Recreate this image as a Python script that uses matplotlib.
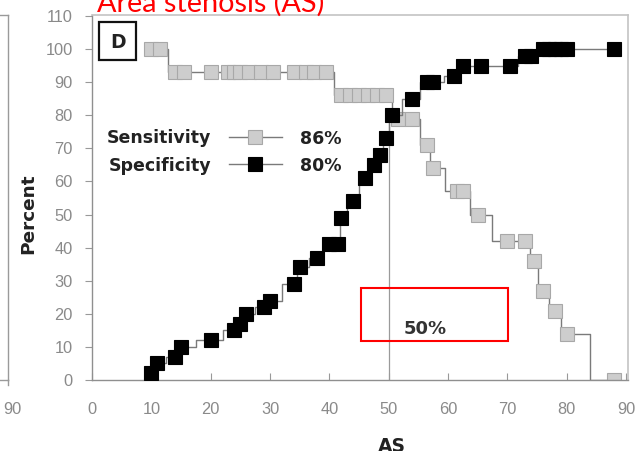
import matplotlib.pyplot as plt
from matplotlib.patches import Rectangle
from matplotlib.lines import Line2D

# ROC-style cut-off curves: sensitivity / specificity against area stenosis
sens_x = [10, 11.5, 14, 15.5, 20, 23, 24, 25, 26.5, 28.5, 30.5, 34, 36, 37.5, 39.5,
          42, 43.5, 45, 46.5, 48, 49.5, 51.5, 54, 56.5, 57.5, 61.5, 62.5, 65,
          70, 73, 74.5, 76, 78, 80, 88]
sens_y = [100, 100, 93, 93, 93, 93, 93, 93, 93, 93, 93, 93, 93, 93, 93,
          86, 86, 86, 86, 86, 86, 79, 79, 71, 64, 57, 57, 50,
          42, 42, 36, 27, 21, 14, 0]

spec_x = [10, 11, 14, 15, 20, 24, 25, 26, 29, 30, 34, 35, 38, 40, 41.5, 42, 44,
          46, 47.5, 48.5, 49.5, 50.5, 54, 56.5, 57.5, 61, 62.5, 65.5, 70.5,
          73, 74, 76, 77, 78, 79, 80, 88]
spec_y = [2, 5, 7, 10, 12, 15, 17, 20, 22, 24, 29, 34, 37, 41, 41, 49, 54,
          61, 65, 68, 73, 80, 85, 90, 90, 92, 95, 95, 95,
          98, 98, 100, 100, 100, 100, 100, 100]

cutoff = 50
cutoff_value = 80
sens_at_cut = "86%"
spec_at_cut = "80%"
cut_label = "50%"

x_ticks = list(range(0, 91, 10))
y_ticks = list(range(0, 111, 10))

W, H = 638, 451


def fx(px):
    return px / W


def fy(py):
    return 1 - py / H


fig = plt.figure(figsize=(W / 100, H / 100), dpi=100)
ax = fig.add_axes([fx(92), fy(380), 536 / W, 365 / H])

grey_line = "#7a7a7a"
ax.vlines(cutoff, 0, cutoff_value, color="#9a9a9a", lw=0.9, zorder=1)

ax.plot(sens_x, sens_y, drawstyle="steps-mid", color=grey_line, lw=1.0,
        marker="s", ms=10, mfc="#cdcdcd", mec="#a8a8a8", mew=0.8,
        label="Sensitivity", zorder=2)
ax.plot(spec_x, spec_y, drawstyle="steps-mid", color=grey_line, lw=1.0,
        marker="s", ms=10, mfc="black", mec="black", mew=0.8,
        label="Specificity", zorder=3)

ax.set_xlim(0, 90.34)
ax.set_ylim(0, 110.3)
ax.set_xticks(x_ticks)
ax.set_yticks(y_ticks)

tick_font = dict(family="Liberation Sans", size=11.8)
ax.set_xticklabels([str(t) for t in x_ticks], color="#8a8a8a", **tick_font)
ax.set_yticklabels([str(t) for t in y_ticks], color="#8a8a8a", **tick_font)
ax.tick_params(axis="x", direction="in", length=5, width=0.8, color="#999999", pad=16)
ax.tick_params(axis="y", direction="out", length=5, width=0.8, color="#999999", pad=9)

for side in ("left", "bottom"):
    ax.spines[side].set_color("#8f8f8f")
    ax.spines[side].set_linewidth(1.0)
for side in ("top", "right"):
    ax.spines[side].set_color("#c4c4c4")
    ax.spines[side].set_linewidth(1.2)

bold = dict(family="DejaVu Sans", weight="bold", size=12.5)

# legend: label, sample, then the value at the cut-off
leg = ax.legend(loc="upper left", bbox_to_anchor=((107 - 92) / 536, (380 - 129) / 365),
                markerfirst=False, frameon=False, numpoints=1,
                handlelength=3.05, handletextpad=1.0, labelspacing=0.55,
                borderpad=0, borderaxespad=0, prop=bold)
for t in leg.get_texts():
    t.set_color("#222222")
ax.text((300 - 92) / 536, (380 - 139) / 365, sens_at_cut, transform=ax.transAxes,
        va="center", ha="left", color="#222222", **bold)
ax.text((300 - 92) / 536, (380 - 166) / 365, spec_at_cut, transform=ax.transAxes,
        va="center", ha="left", color="#222222", **bold)

# panel letter
fig.patches.append(Rectangle((fx(99), fy(60)), 37 / W, 38 / H, transform=fig.transFigure,
                             fill=True, fc="white", ec="#111111", lw=1.6, zorder=5))
fig.text(fx(118), fy(42), "D", ha="center", va="center", zorder=6,
         family="DejaVu Sans", weight="bold", size=13.5, color="#222222")

# highlighted cut-off box
fig.patches.append(Rectangle((fx(361), fy(341)), 147 / W, 53 / H, transform=fig.transFigure,
                             fill=False, ec="red", lw=1.5, zorder=5))
fig.text(fx(425), fy(329), cut_label, ha="center", va="center",
         family="DejaVu Sans", weight="bold", size=13, color="#333333")

fig.text(fx(97), fy(12), "Area stenosis (AS)", color="red", ha="left", va="baseline",
         family="Lato", size=20.8)

fig.text(fx(28), fy(214), "Percent", rotation=90, ha="center", va="center",
         family="DejaVu Sans", weight="bold", size=13.3, color="#222222")
fig.text(fx(392), fy(437), "AS", ha="center", va="top",
         family="DejaVu Sans", weight="bold", size=13.5, color="#222222")

# edge of the neighbouring panel
for xs, ys in (([0, 8], [15, 15]), ([8, 8], [15, 380]), ([0, 8], [380, 380]), ([8, 8], [380, 385])):
    fig.add_artist(Line2D([fx(x) for x in xs], [fy(y) for y in ys], transform=fig.transFigure,
                          color="#9a9a9a", lw=1.0))
fig.text(fx(21), fy(410), "90", ha="right", va="center", color="#8a8a8a", **tick_font)

fig.savefig("out.png", dpi=100)
